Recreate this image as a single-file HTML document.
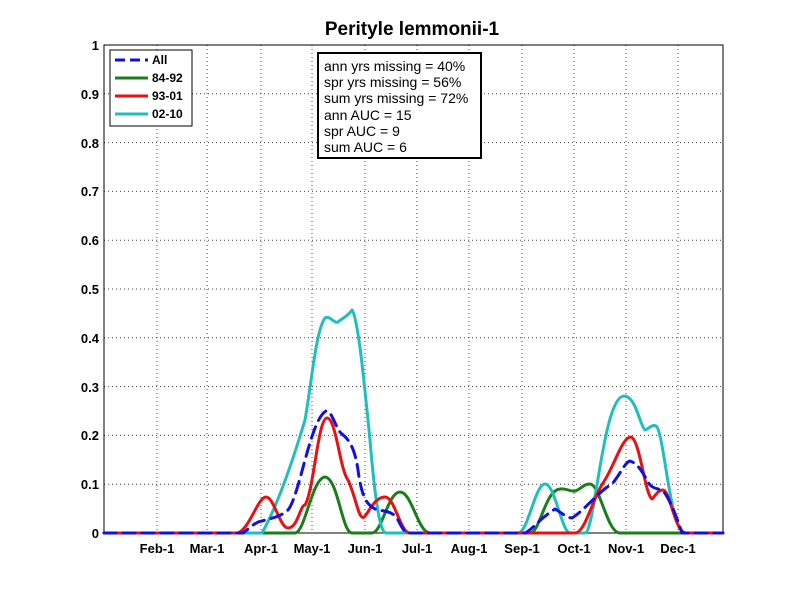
<!DOCTYPE html>
<html><head><style>
body{margin:0;background:#fff;}
svg text{font-family:"Liberation Sans",Arial,sans-serif;}
</style></head><body>
<svg width="800" height="600" viewBox="0 0 800 600" xmlns="http://www.w3.org/2000/svg">
<rect width="800" height="600" fill="#fff"/>
<text x="412" y="35" text-anchor="middle" font-size="19" font-weight="bold">Perityle lemmonii-1</text>
<g stroke="#444" stroke-width="1" stroke-dasharray="1,3">
<line x1="157" y1="45" x2="157" y2="533"/><line x1="207" y1="45" x2="207" y2="533"/>
<line x1="261" y1="45" x2="261" y2="533"/><line x1="312" y1="45" x2="312" y2="533"/>
<line x1="365" y1="45" x2="365" y2="533"/><line x1="417" y1="45" x2="417" y2="533"/>
<line x1="469" y1="45" x2="469" y2="533"/><line x1="522" y1="45" x2="522" y2="533"/>
<line x1="574" y1="45" x2="574" y2="533"/><line x1="626" y1="45" x2="626" y2="533"/>
<line x1="678" y1="45" x2="678" y2="533"/>
<line x1="104" y1="484.2" x2="723" y2="484.2"/><line x1="104" y1="435.4" x2="723" y2="435.4"/>
<line x1="104" y1="386.6" x2="723" y2="386.6"/><line x1="104" y1="337.8" x2="723" y2="337.8"/>
<line x1="104" y1="289" x2="723" y2="289"/><line x1="104" y1="240.2" x2="723" y2="240.2"/>
<line x1="104" y1="191.4" x2="723" y2="191.4"/><line x1="104" y1="142.6" x2="723" y2="142.6"/>
<line x1="104" y1="93.8" x2="723" y2="93.8"/>
</g>
<rect x="104" y="45" width="619" height="488" fill="none" stroke="#000" stroke-width="1"/>
<g font-size="13" font-weight="bold" text-anchor="end">
<text x="99" y="538">0</text><text x="99" y="489">0.1</text><text x="99" y="440">0.2</text>
<text x="99" y="392">0.3</text><text x="99" y="343">0.4</text><text x="99" y="294">0.5</text>
<text x="99" y="245">0.6</text><text x="99" y="196">0.7</text><text x="99" y="148">0.8</text>
<text x="99" y="99">0.9</text><text x="99" y="50">1</text>
</g>
<g font-size="13" font-weight="bold" text-anchor="middle">
<text x="157" y="553">Feb-1</text><text x="207" y="553">Mar-1</text><text x="261" y="553">Apr-1</text>
<text x="312" y="553">May-1</text><text x="365" y="553">Jun-1</text><text x="417" y="553">Jul-1</text>
<text x="469" y="553">Aug-1</text><text x="522" y="553">Sep-1</text><text x="574" y="553">Oct-1</text>
<text x="626" y="553">Nov-1</text><text x="678" y="553">Dec-1</text>
</g>
<g fill="none" stroke-width="3" stroke-linejoin="round" stroke-linecap="round">
<path stroke="#1a7f1a" d="M104,533 L295,533 C305,533 312,478 325,477 C338,478 342,533 352,533 L372,533 C382,533 388,492 400,492 C412,492 418,533 430,533 L530,533 C540,533 545,490 560,489 C567,488 570,492 575,491 C580,490 583,484 590,484 C600,484 607,533 620,533 L723,533"/>
<path stroke="#1fbfbf" d="M104,533 L262,533 C275,510 290,470 305,420 C312,380 316,330 325,318 C330,315 334,324 338,322 C342,318 346,318 352,310 C358,318 364,380 370,440 C375,500 380,533 386,533 L518,533 C528,533 535,484 545,484 C555,484 562,533 570,533 L585,533 C595,533 603,396 624,396 C636,396 640,426 645,430 C650,428 652,424 656,426 C664,430 670,533 685,533 L723,533"/>
<path stroke="#e81010" d="M104,533 L238,533 C250,528 258,497 266,497 C274,497 280,528 288,528 C298,528 300,505 305,505 C314,490 318,418 327,418 C336,418 340,470 348,480 C355,495 358,515 362,517 C366,521 372,497 385,497 C395,497 400,533 410,533 L575,533 C585,533 592,500 603,483 C615,465 622,437 631,437 C640,440 645,495 652,499 C656,495 658,490 663,490 C670,490 675,533 686,533 L723,533"/>
<path stroke="#1010e0" stroke-dasharray="12,7" d="M104,533 L243,533 C250,528 255,522 262,521 C272,518 280,517 288,510 C300,495 310,420 326,411 C332,410 336,430 342,434 C350,440 355,450 358,470 C362,500 368,505 375,509 C385,512 392,510 398,520 C402,528 405,533 408,533 L525,533 C532,530 538,520 555,509 C562,513 567,518 572,518 C585,510 600,490 612,484 C620,475 625,462 630,461 C640,464 645,478 650,485 C655,490 660,488 664,492 C670,500 676,515 682,533 L723,533"/>
</g>
<rect x="110" y="50" width="82" height="76" fill="#fff" stroke="#000" stroke-width="1"/>
<g stroke-width="3">
<line x1="115" y1="60" x2="148" y2="60" stroke="#1010e0" stroke-dasharray="10,5"/>
<line x1="115" y1="78" x2="148" y2="78" stroke="#1a7f1a"/>
<line x1="115" y1="96" x2="148" y2="96" stroke="#e81010"/>
<line x1="115" y1="114" x2="148" y2="114" stroke="#1fbfbf"/>
</g>
<g font-size="12" font-weight="bold">
<text x="152" y="64">All</text><text x="152" y="82">84-92</text>
<text x="152" y="100">93-01</text><text x="152" y="118">02-10</text>
</g>
<rect x="318" y="53" width="163" height="105" fill="#fff" stroke="#000" stroke-width="2"/>
<g font-size="14">
<text x="324" y="71">ann yrs missing = 40%</text>
<text x="324" y="87">spr yrs missing = 56%</text>
<text x="324" y="103">sum yrs missing = 72%</text>
<text x="324" y="120">ann AUC = 15</text>
<text x="324" y="136">spr AUC = 9</text>
<text x="324" y="152">sum AUC = 6</text>
</g>
</svg>
</body></html>
